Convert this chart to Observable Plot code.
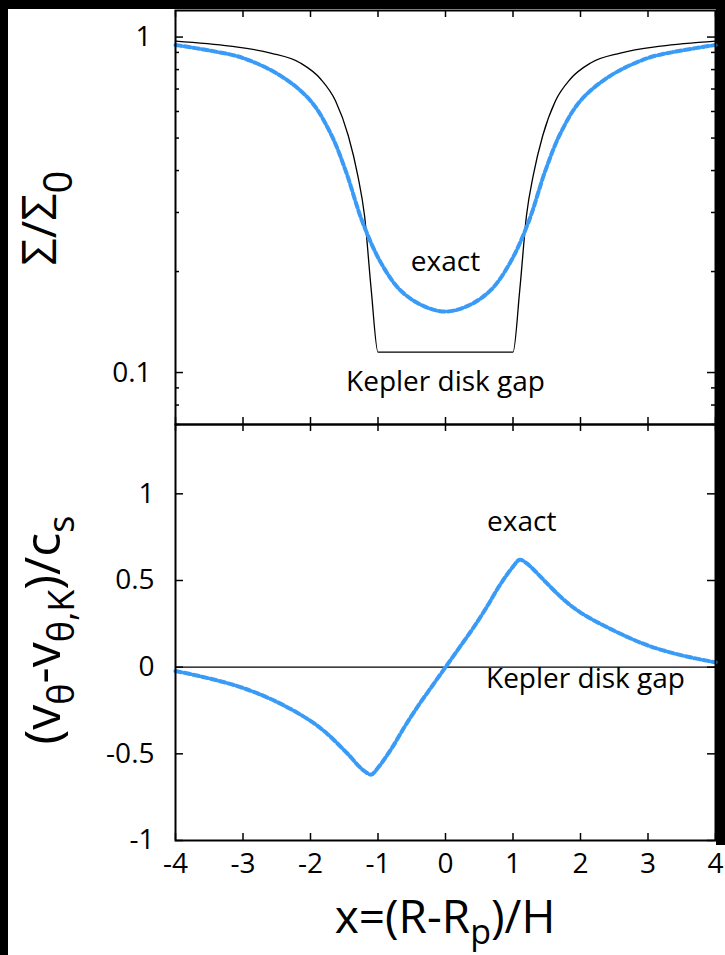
<!DOCTYPE html>
<html><head><meta charset="utf-8">
<script src="https://cdn.jsdelivr.net/npm/d3@7"></script>
<script src="https://cdn.jsdelivr.net/npm/@observablehq/plot@0.6"></script>
<style>
body{margin:0;background:#fff;}
#wrap{position:relative;width:725px;height:955px;background:#fff;overflow:hidden;font-family:"Open Sans",sans-serif;}
.bk{position:absolute;background:#000;}
#wrap svg{position:absolute;left:0;overflow:visible;}
</style></head><body>
<div id="wrap">
</div>
<script>
// ---------- data ----------
const xTicks = [-4,-3,-2,-1,0,1,2,3,4];
const sigmaMajor = [0.1, 1];
const sigmaMinor = [0.07,0.08,0.09,0.2,0.3,0.4,0.5,0.6,0.7,0.8,0.9];
const vTicks = [-1,-0.5,0,0.5,1];

// Σ/Σ0 : exact (blue)
const exactSigmaX = [-4,-3.5,-3,-2.44,-2,-1.70,-1.48,-1.23,-0.96,-0.67,-0.33,0,0.33,0.67,0.96,1.23,1.48,1.70,2,2.44,3,3.5,4];
const exactSigmaY = [0.947,0.912,0.866,0.766,0.646,0.515,0.400,0.281,0.213,0.176,0.158,0.152,0.158,0.176,0.213,0.281,0.400,0.515,0.646,0.766,0.866,0.912,0.947];
// Σ/Σ0 : Kepler disk gap (black)
const keplerSigmaX = [-4,-3.19,-2.59,-2.15,-1.85,-1.63,-1.44,-1.30,-1.20,-1.10,-1.0,1.0,1.10,1.20,1.30,1.44,1.63,1.85,2.15,2.59,3.19,4];
const keplerSigmaY = [0.973,0.940,0.896,0.837,0.750,0.646,0.508,0.387,0.294,0.176,0.115,0.115,0.176,0.294,0.387,0.508,0.646,0.750,0.837,0.896,0.940,0.973];
// velocity : exact (blue)
const exactVX = [-4,-3.5,-3,-2.5,-2,-1.75,-1.5,-1.4,-1.3,-1.2,-1.1,-1.0,-0.8,-0.6,-0.4,-0.2,0,0.2,0.4,0.6,0.8,1.0,1.1,1.2,1.3,1.4,1.5,1.75,2,2.5,3,3.5,4];
const exactVY = [-0.022,-0.065,-0.12,-0.20,-0.31,-0.385,-0.48,-0.52,-0.565,-0.60,-0.62,-0.58,-0.47,-0.34,-0.22,-0.11,0,0.11,0.22,0.34,0.47,0.58,0.62,0.60,0.565,0.525,0.485,0.39,0.315,0.21,0.125,0.068,0.028];
// velocity : Kepler disk gap (black)
const keplerVX = [-4,4];
const keplerVY = [0,0];

const exactSigma = exactSigmaX.map((x,i)=>({x, y: exactSigmaY[i]}));
const keplerSigma = keplerSigmaX.map((x,i)=>({x, y: keplerSigmaY[i]}));
const exactV = exactVX.map((x,i)=>({x, y: exactVY[i]}));
const keplerV = keplerVX.map((x,i)=>({x, y: keplerVY[i]}));

const BLUE = "#3a9bf7";
const FONT = "Open Sans";
const wrap = document.getElementById("wrap");

// black surround
[[0,0,8,955],[0,0,725,9],[716,0,9,845]].forEach(([l,t,w,h])=>{
  const d=document.createElement("div"); d.className="bk";
  Object.assign(d.style,{left:l+"px",top:t+"px",width:w+"px",height:h+"px"});
  wrap.appendChild(d);
});

const PW = 540;
const tk = {stroke:"#000", strokeOpacity:1, strokeWidth:1.5};
const dash = {stroke:BLUE, strokeWidth:4, strokeDasharray:"6,3"};

// ---------- top panel ----------
const H1 = 414;
const topPlot = Plot.plot({
  width:725, height:430, marginLeft:175, marginRight:10, marginTop:10, marginBottom:6,
  x:{domain:[-4,4], axis:null},
  y:{type:"log", domain:[0.07,1.2], axis:null},
  style:{fontFamily:FONT, fontSize:"28px", color:"#000", background:"transparent", overflow:"visible"},
  marks:[
    Plot.gridX(xTicks,{...tk, insetBottom:H1-7}),
    Plot.gridX(xTicks,{...tk, insetTop:H1-7}),
    Plot.gridY(sigmaMajor,{...tk, insetRight:PW-8}),
    Plot.gridY(sigmaMajor,{...tk, insetLeft:PW-8}),
    Plot.gridY(sigmaMinor,{...tk, insetRight:PW-4}),
    Plot.gridY(sigmaMinor,{...tk, insetLeft:PW-4}),
    Plot.axisY(sigmaMajor,{anchor:"left", label:null, tickSize:0, tickPadding:24, tickFormat:d=>String(d), fontSize:28}),
    Plot.line(keplerSigma,{x:"x", y:"y", stroke:"#000", strokeWidth:1.3, curve:"monotone-x"}),
    Plot.line(exactSigma,{x:"x", y:"y", ...dash, curve:"catmull-rom"}),
    Plot.text(["exact"],{x:[0], y:[0.213], text:d=>d, fontSize:28, textAnchor:"middle", lineAnchor:"middle", fill:"#000"}),
    Plot.text(["Kepler disk gap"],{x:[0], y:[0.0936], text:d=>d, fontSize:28, textAnchor:"middle", lineAnchor:"middle", fill:"#000"}),
    Plot.frame({stroke:"#000", strokeWidth:2})
  ]
});
topPlot.style.top = "0px";
wrap.appendChild(topPlot);

// ---------- bottom panel ----------
const H2 = 416;
const botPlot = Plot.plot({
  width:725, height:537, marginLeft:175, marginRight:10, marginTop:6, marginBottom:115,
  x:{domain:[-4,4], axis:null},
  y:{domain:[-1,1.4], axis:null},
  style:{fontFamily:FONT, fontSize:"28px", color:"#000", background:"transparent", overflow:"visible"},
  marks:[
    Plot.gridX(xTicks,{...tk, insetBottom:H2-7}),
    Plot.gridX(xTicks,{...tk, insetTop:H2-7}),
    Plot.gridY(vTicks,{...tk, insetRight:PW-8}),
    Plot.gridY(vTicks,{...tk, insetLeft:PW-8}),
    Plot.axisY(vTicks,{anchor:"left", label:null, tickSize:0, tickPadding:21, tickFormat:d=>String(d), fontSize:28}),
    Plot.axisX(xTicks,{anchor:"bottom", label:null, tickSize:0, tickPadding:13, tickFormat:d=>String(d), fontSize:28}),
    Plot.line(keplerV,{x:"x", y:"y", stroke:"#000", strokeWidth:1.3}),
    Plot.line(exactV,{x:"x", y:"y", ...dash, curve:"catmull-rom"}),
    Plot.text(["exact"],{x:[1.13], y:[0.835], text:d=>d, fontSize:28, textAnchor:"middle", lineAnchor:"middle", fill:"#000"}),
    Plot.text(["Kepler disk gap"],{x:[0.6], y:[-0.07], text:d=>d, fontSize:28, textAnchor:"start", lineAnchor:"middle", fill:"#000"}),
    Plot.frame({stroke:"#000", strokeWidth:2})
  ]
});
botPlot.style.top = "418px";
wrap.appendChild(botPlot);

// ---------- axis titles ----------
const ov = d3.select(wrap).append("svg")
  .attr("width",725).attr("height",955)
  .style("top","0px").style("pointer-events","none")
  .style("font-family",FONT);

const t1 = ov.append("text").attr("transform","translate(56,218) rotate(-90)")
  .attr("text-anchor","middle").attr("font-size",48).attr("fill","#000");
t1.append("tspan").text("Σ/Σ");
t1.append("tspan").attr("font-size",40).attr("dy",16).text("0");

const t2 = ov.append("text").attr("transform","translate(60,630) rotate(-90)")
  .attr("text-anchor","middle").attr("font-size",50).attr("fill","#000");
t2.append("tspan").text("(v");
t2.append("tspan").attr("font-size",36).attr("dy",14).text("θ");
t2.append("tspan").attr("dy",-14).text("-v");
t2.append("tspan").attr("font-size",36).attr("dy",14).text("θ,K");
t2.append("tspan").attr("dy",-14).text(")/c");
t2.append("tspan").attr("font-size",36).attr("dy",14).text("s");

const t3 = ov.append("text").attr("transform","translate(445,933)")
  .attr("text-anchor","middle").attr("font-size",46).attr("fill","#000");
t3.append("tspan").text("x=(R-R");
t3.append("tspan").attr("font-size",34).attr("dy",11).text("p");
t3.append("tspan").attr("dy",-11).text(")/H");
</script>
</body></html>
